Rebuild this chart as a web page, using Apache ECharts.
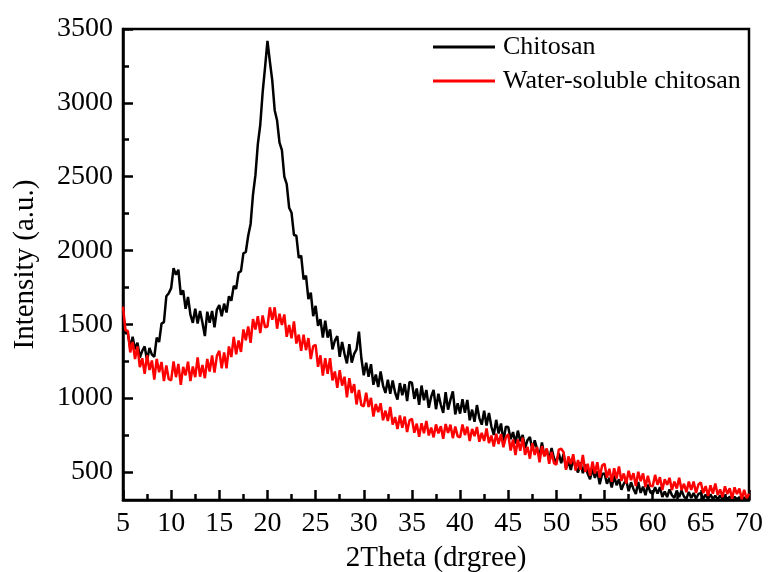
<!DOCTYPE html>
<html lang="en">
<head>
    <meta charset="UTF-8">
    <title>XRD</title>
    <script src="https://cdn.jsdelivr.net/npm/echarts@6/dist/echarts.min.js"></script>
    <style>
        html, body { margin: 0; padding: 0; background: #fff; }
    </style>
</head>
<body>
<div id="container" style="width: 768px; height: 572px;"></div>
<script>
    // 2theta sampling of both patterns
    var thetaStart = 5, thetaStep = 0.25;

    // Chitosan (5.00 .. 70.00, every 0.25)
    var chitosan = [
        1590, 1440, 1440, 1340, 1415, 1330, 1375, 1275, 1320, 1350, 1255, 1340, 1295, 1280, 1410, 1380, 1505, 1515, 1690, 1710,
        1745, 1880, 1835, 1870, 1700, 1730, 1605, 1685, 1565, 1510, 1605, 1505, 1590, 1510, 1420, 1585, 1510, 1590, 1480, 1600,
        1630, 1555, 1640, 1580, 1690, 1660, 1760, 1740, 1850, 1860, 1980, 1990, 2100, 2180, 2380, 2510, 2720, 2850, 3070, 3240,
        3420, 3280, 3150, 2950, 2880, 2730, 2680, 2500, 2450, 2290, 2255, 2105, 2100, 1950, 1965, 1805, 1830, 1670, 1715, 1555,
        1625, 1490, 1535, 1410, 1525, 1410, 1465, 1330, 1390, 1420, 1280, 1380, 1300, 1235, 1365, 1240, 1300, 1330, 1450, 1270,
        1155, 1240, 1145, 1230, 1090, 1160, 1075, 1180, 1085, 1035, 1125, 1030, 1120, 1038, 990, 1102, 1020, 1095, 980, 1110,
        1105, 995, 1065, 955, 1085, 985, 1055, 935, 1010, 1055, 925, 1030, 955, 900, 1040, 922, 990, 1045, 890, 965,
        895, 992, 900, 988, 850, 922, 840, 953, 865, 820, 915, 815, 900, 808, 750, 853, 760, 828, 707, 806,
        805, 722, 770, 692, 780, 707, 750, 662, 715, 736, 648, 714, 655, 610, 700, 610, 650, 581, 662, 593,
        565, 627, 560, 622, 525, 574, 513, 591, 530, 497, 565, 492, 550, 487, 450, 522, 460, 504, 417, 486,
        490, 420, 460, 395, 475, 410, 450, 380, 420, 445, 370, 430, 385, 351, 432, 358, 400, 342, 415, 362,
        350, 397, 353, 397, 330, 367, 330, 382, 342, 324, 374, 329, 375, 333, 318, 365, 323, 358, 318, 351,
        357, 318, 346, 317, 348, 317, 339, 313, 342, 315, 338, 315, 334, 314, 332, 314, 330, 314, 328, 314,
        318
    ];

    // Water-soluble chitosan
    var waterSoluble = [
        1620, 1460, 1455, 1310, 1380, 1265, 1350, 1210, 1270, 1165, 1290, 1190, 1255, 1125, 1265, 1175, 1245, 1116, 1222, 1128,
        1120, 1249, 1142, 1231, 1090, 1212, 1154, 1247, 1115, 1214, 1142, 1276, 1145, 1225, 1135, 1265, 1180, 1289, 1173, 1286,
        1320, 1202, 1310, 1202, 1350, 1278, 1415, 1297, 1390, 1313, 1465, 1392, 1485, 1375, 1535, 1465, 1555, 1440, 1560, 1480,
        1485, 1615, 1530, 1615, 1470, 1572, 1495, 1567, 1415, 1495, 1405, 1520, 1370, 1430, 1320, 1430, 1325, 1407, 1265, 1352,
        1360, 1212, 1290, 1152, 1270, 1165, 1270, 1120, 1180, 1070, 1190, 1085, 1145, 1005, 1135, 1035, 1095, 957, 1055, 952,
        945, 1037, 940, 1002, 875, 960, 905, 965, 850, 915, 845, 940, 820, 872, 790, 882, 800, 875, 770, 850,
        860, 766, 827, 739, 830, 762, 845, 747, 800, 734, 822, 761, 810, 725, 825, 765, 820, 729, 807, 741,
        735, 822, 750, 807, 710, 791, 742, 804, 705, 765, 710, 795, 695, 746, 672, 758, 690, 756, 667, 733,
        755, 645, 720, 615, 720, 644, 732, 616, 670, 590, 695, 615, 670, 565, 675, 605, 660, 555, 635, 560,
        550, 651, 657, 634, 515, 605, 555, 620, 510, 580, 515, 615, 500, 555, 475, 570, 490, 566, 462, 544,
        555, 461, 522, 434, 525, 456, 537, 439, 490, 422, 508, 445, 492, 404, 501, 438, 490, 397, 474, 406,
        403, 480, 413, 465, 378, 450, 413, 460, 378, 435, 388, 460, 378, 420, 363, 435, 378, 435, 358, 415,
        428, 356, 404, 337, 410, 353, 421, 344, 382, 330, 403, 351, 390, 318, 396, 350, 388, 316, 379, 322,
        352
    ];

    var xMajor = [5, 10, 15, 20, 25, 30, 35, 40, 45, 50, 55, 60, 65, 70];
    var xMinor = [7.5, 12.5, 17.5, 22.5, 27.5, 32.5, 37.5, 42.5, 47.5, 52.5, 57.5, 62.5, 67.5];
    var yMajor = [500, 1000, 1500, 2000, 2500, 3000, 3500];
    var yMinor = [750, 1250, 1750, 2250, 2750, 3250];

    function pairs(values) {
        var out = [];
        for (var i = 0; i < values.length; i++) {
            out.push([thetaStart + i * thetaStep, values[i]]);
        }
        return out;
    }

    var font = '"Liberation Serif", "Times New Roman", serif';
    var tickStyle = { color: '#000', width: 2.5 };

    // bare axis that only carries inward ticks at the given values
    function tickAxis(pos, min, max, values, len) {
        return {
            type: 'value', position: pos, offset: 0,
            min: min, max: max,
            axisLine: { show: false },
            axisTick: { show: true, inside: true, length: len, customValues: values, lineStyle: tickStyle },
            axisLabel: { show: false },
            splitLine: { show: false }
        };
    }

    var chart = echarts.init(document.getElementById('container'));
    chart.setOption({
        backgroundColor: '#fff',
        animation: false,
        textStyle: { fontFamily: font, color: '#000' },
        grid: {
            left: 123, right: 19, top: 29, bottom: 72,
            outerBoundsMode: 'none',
            show: true, borderColor: '#000', borderWidth: 2.5
        },
        legend: {
            orient: 'vertical',
            left: 433, top: 34,
            padding: 0,
            itemGap: 8,
            itemWidth: 62,
            itemHeight: 3,
            icon: 'rect',
            textStyle: { fontFamily: font, fontSize: 26, color: '#000', padding: [0, 0, 0, 3] },
            data: ['Chitosan', 'Water-soluble chitosan']
        },
        xAxis: [{
            type: 'value',
            min: 5, max: 70, interval: 5,
            name: '2Theta (drgree)',
            nameLocation: 'middle',
            nameGap: 44,
            nameTextStyle: { fontFamily: font, fontSize: 29, color: '#000' },
            axisLine: { show: true, lineStyle: { color: '#000', width: 2.5 } },
            axisTick: { show: false },
            axisLabel: {
                fontFamily: font, fontSize: 28, color: '#000', margin: 10,
                formatter: function (v) { return String(v); }
            },
            splitLine: { show: false }
        }, tickAxis('bottom', 5, 70, xMajor, 10), tickAxis('bottom', 5, 70, xMinor, 6)],
        yAxis: [{
            type: 'value',
            min: 310, max: 3500,
            name: 'Intensity (a.u.)',
            nameLocation: 'middle',
            nameGap: 83,
            nameTextStyle: { fontFamily: font, fontSize: 29, color: '#000' },
            axisLine: { show: true, lineStyle: { color: '#000', width: 2.5 } },
            axisTick: { show: false },
            axisLabel: {
                fontFamily: font, fontSize: 28, color: '#000', margin: 10, customValues: yMajor,
                formatter: function (v) { return String(v); }
            },
            splitLine: { show: false }
        }, tickAxis('left', 310, 3500, yMajor, 10), tickAxis('left', 310, 3500, yMinor, 6)],
        series: [{
            name: 'Chitosan',
            type: 'line',
            data: pairs(chitosan),
            showSymbol: false,
            color: '#000',
            lineStyle: { color: '#000', width: 2.5 }
        }, {
            name: 'Water-soluble chitosan',
            type: 'line',
            data: pairs(waterSoluble),
            showSymbol: false,
            color: '#ff0000',
            lineStyle: { color: '#ff0000', width: 2.5 }
        }]
    });
</script>
</body>
</html>
